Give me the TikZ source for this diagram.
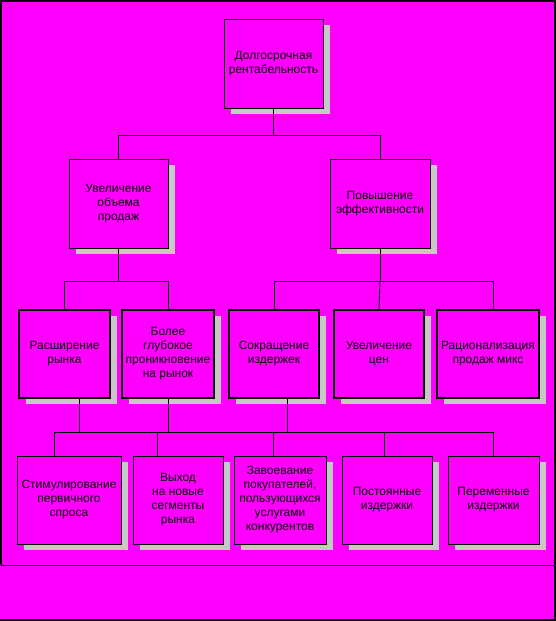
\documentclass[tikz,border=0pt]{standalone}
\usepackage{fontspec}
\setmainfont{Liberation Sans}
\usepackage{tikz}
\usetikzlibrary{shadows}
\definecolor{bgpink}{RGB}{255,0,255}
\definecolor{shadegray}{RGB}{200,200,200}
\tikzset{
    box/.style={draw=black, fill=bgpink, line width=0.9pt, align=center, inner sep=0pt,
        font=\fontsize{12}{14}\selectfont, minimum height=89pt,
        drop shadow={shadow xshift=7pt, shadow yshift=-6pt, fill=shadegray, opacity=1, fill opacity=1}},
    thickbox/.style={box, line width=1.6pt, minimum height=88pt},
    link/.style={draw=black, line width=0.9pt}
}

\begin{document}
\begin{tikzpicture}[x=1pt,y=-1pt]
    \fill[bgpink] (0,0) rectangle (556,621);
    \useasboundingbox (0,0) rectangle (556,621);

    \node[box, minimum width=99pt] (top) at (273.5,63.5) {Долгосрочная\\рентабельность};
    \node[box, minimum width=99pt] (sales) at (118.5,203.5) {Увеличение\\объема\\продаж};
    \node[box, minimum width=100pt] (eff) at (380,203.5) {Повышение\\эффективности};

    \node[thickbox, minimum width=91pt] (m1) at (64.5,354) {Расширение\\рынка};
    \node[thickbox, minimum width=92pt] (m2) at (168,354) {Более\\глубокое\\проникновение\\на рынок};
    \node[thickbox, minimum width=90pt] (m3) at (274,354) {Сокращение\\издержек};
    \node[thickbox, minimum width=90pt] (m4) at (379,354) {Увеличение\\цен};
    \node[thickbox, minimum width=102pt] (m5) at (488,354) {Рационализация\\продаж микс};

    \node[box, minimum width=104pt, minimum height=88pt] (b1) at (69,500) {Стимулирование\\первичного\\спроса};
    \node[box, minimum width=90pt, minimum height=88pt] (b2) at (178,500) {Выход\\на новые\\сегменты\\рынка};
    \node[box, minimum width=92pt, minimum height=88pt] (b3) at (280,500) {Завоевание\\покупателей,\\пользующихся\\услугами\\конкурентов};
    \node[box, minimum width=90pt, minimum height=88pt] (b4) at (387,500) {Постоянные\\издержки};
    \node[box, minimum width=91pt, minimum height=88pt] (b5) at (493.5,500) {Переменные\\издержки};

    \coordinate (bus1) at (0,135);
    \coordinate (bus2) at (0,281);
    \coordinate (bus3) at (0,432);

    \draw[link] (top.south) -- (top.south |- bus1) -| (sales.north);
    \draw[link] (top.south |- bus1) -| (eff.north);
    \draw[link] (sales.south) -- (sales.south |- bus2) -| (m1.north);
    \draw[link] (sales.south |- bus2) -| (m2.north);
    \draw[link] (eff.south) -- (eff.south |- bus2) -| (m3.north);
    \draw[link] (eff.south |- bus2) -| ([xshift=5pt]m5.north);
    \draw[link] (eff.south |- bus2) -- (m4.north);

    \draw[link] ([xshift=-15pt]b1.north) |- ([xshift=-0.5pt]b5.north |- bus3) -- ([xshift=-0.5pt]b5.north);
    \foreach \n/\s in {b2/-21, b3/-7, b4/-3}
        \draw[link] ([xshift=\s pt]\n.north) -- ([xshift=\s pt]\n.north |- bus3);
    \foreach \n/\s in {m1/15, m2/0, m3/13}
        \draw[link] ([xshift=\s pt]\n.south) -- ([xshift=\s pt]\n.south |- bus3);

    \draw[line width=2pt] (1,565) -- (1,1) -- (554.5,1) -- (554.5,621);
    \draw[line width=1pt] (1,565) -- (554.5,565);
    \draw[line width=2pt] (0,620) -- (556,620);
\end{tikzpicture}
\end{document}
